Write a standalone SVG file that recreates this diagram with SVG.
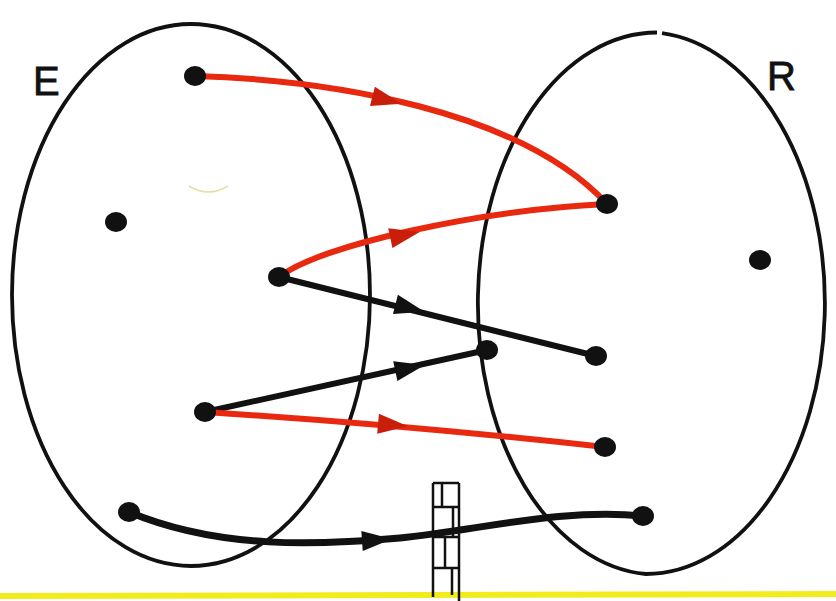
<svg xmlns="http://www.w3.org/2000/svg" xmlns:xlink="http://www.w3.org/1999/xlink" width="836" height="601" viewBox="0 0 836 601">
<style>
.set{fill:none;stroke:#111;stroke-width:3.8}
.dot{fill:#111}
.red{fill:none;stroke:#e8280f;stroke-width:6;stroke-linecap:round}
.blk{fill:none;stroke:#111;stroke-width:6;stroke-linecap:round}
.ahr{fill:#c81e0a}
.ahb{fill:#111}
.lbl{font-family:"Liberation Sans",Arial,sans-serif;font-size:40px;fill:#111;stroke:#111;stroke-width:0.8}
.lad{fill:none;stroke:#111;stroke-width:2.5}
</style>
<defs>
<path id="ah" d="M-15,-10 L15,0 L-15,10 Z"/>
</defs>
<rect width="836" height="601" fill="#ffffff"/>
<path d="M0,596 L836,594" stroke="#f2ec1c" stroke-width="6" fill="none"/>
<path d="M189,186 Q208,198 228,186" fill="none" stroke="#e6dfa0" stroke-width="1.5"/>
<g id="set-E">
<ellipse class="set" cx="191" cy="295" rx="179" ry="271"/>
<text class="lbl" x="33" y="95">E</text>
</g>
<g id="set-R">
<path class="set" d="M662,33.1 A179,271 0 0 1 646,574 A179,271 0 0 1 657,32.5"/>
<text class="lbl" x="767" y="90">R</text>
</g>
<g id="ladder">
<path class="lad" d="M433,483 L433,597 M459,483 L459,601 M433,483 L459,483 M433,507 L459,507 M433,537 L459,537 M433,568 L459,568 M442,483 L442,507 M453,507 L453,537 M445,537 L445,568 M452,568 L452,595"/>
</g>
<g id="connectors">
<path class="red" d="M195,76 C330,80 520,110 607,204"/>
<path class="red" d="M279,277 C320,245 480,210 607,204"/>
<path class="blk" d="M279,277 L596,356"/>
<path class="blk" d="M205,412 L487,350"/>
<path class="red" d="M205,412 C300,418 450,430 605,447"/>
<path class="blk" style="stroke-width:7" d="M129,512 C220,550 320,545 400,538 C480,530 560,508 643,516"/>
<use href="#ah" class="ahr" transform="translate(387,100) rotate(14)"/>
<use href="#ah" class="ahr" transform="translate(405,235) rotate(-12)"/>
<use href="#ah" class="ahb" transform="translate(410,308) rotate(14)"/>
<use href="#ah" class="ahb" transform="translate(410,368) rotate(-12)"/>
<use href="#ah" class="ahr" transform="translate(393,425) rotate(5)"/>
<use href="#ah" class="ahb" transform="translate(377,540) rotate(-4)"/>
</g>
<g id="e1"><ellipse class="dot" cx="195" cy="76" rx="11" ry="10"/></g>
<g id="e2"><ellipse class="dot" cx="116" cy="222" rx="11" ry="10"/></g>
<g id="e3"><ellipse class="dot" cx="279" cy="277" rx="11" ry="10"/></g>
<g id="e4"><ellipse class="dot" cx="205" cy="412" rx="11" ry="10"/></g>
<g id="e5"><ellipse class="dot" cx="129" cy="512" rx="11" ry="10"/></g>
<g id="r1"><ellipse class="dot" cx="607" cy="204" rx="11" ry="10"/></g>
<g id="r2"><ellipse class="dot" cx="760" cy="260" rx="11" ry="10"/></g>
<g id="r3"><ellipse class="dot" cx="487" cy="350" rx="11" ry="10"/></g>
<g id="r4"><ellipse class="dot" cx="596" cy="356" rx="11" ry="10"/></g>
<g id="r5"><ellipse class="dot" cx="605" cy="447" rx="11" ry="10"/></g>
<g id="r6"><ellipse class="dot" cx="643" cy="516" rx="11" ry="10"/></g>
</svg>
